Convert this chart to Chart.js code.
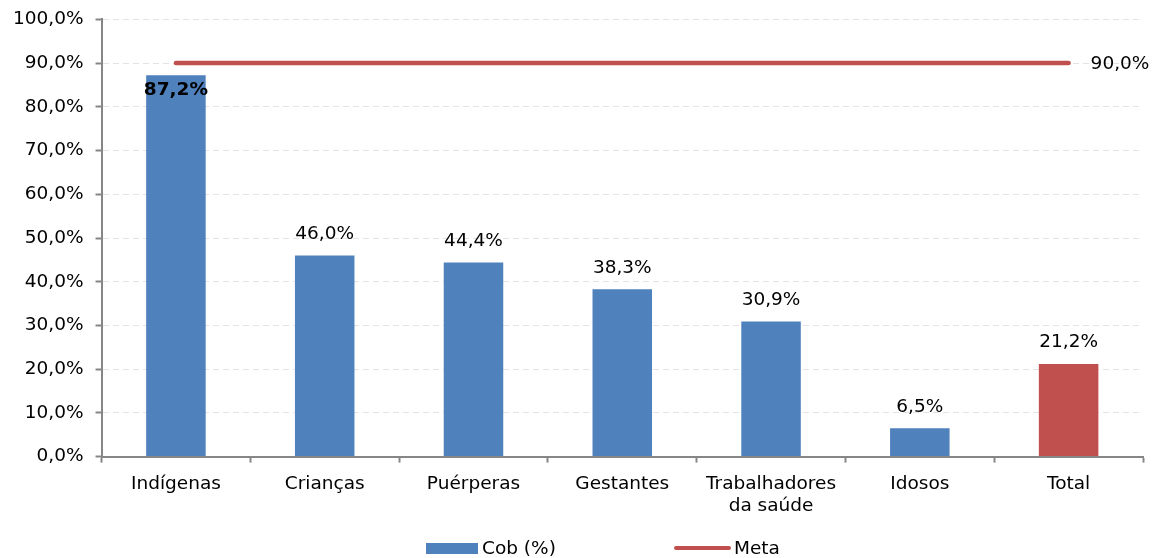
<!DOCTYPE html>
<html>
<head>
<meta charset="utf-8">
<script src="https://cdn.jsdelivr.net/npm/chart.js@4"></script>
<style>
  html, body { margin: 0; padding: 0; background: #fff; }
  #wrap { width: 1160px; height: 558px; }
</style>
</head>
<body>
<div id="wrap"><canvas id="chart"></canvas></div>
<script>
const categories = ['Indígenas', 'Crianças', 'Puérperas', 'Gestantes', ['Trabalhadores', 'da saúde'], 'Idosos', 'Total'];
const cobValues = [87.2, 46.0, 44.4, 38.3, 30.9, 6.5, 21.2];
const metaValues = [90, 90, 90, 90, 90, 90, 90];
const yTicks = [0, 10, 20, 30, 40, 50, 60, 70, 80, 90, 100];

const BLUE = '#4F81BD';
const RED = '#C0504D';
const FONT = '"DejaVu Sans", Verdana, sans-serif';
const FS = 18.5;

function pct(v) {
    return v.toFixed(1).replace('.', ',') + '%';
}

// value labels + legend, drawn by hand
const labelsPlugin = {
    id: 'labels',
    afterDatasetsDraw(chart) {
        const ctx = chart.ctx;
        const bars = chart.getDatasetMeta(0).data;
        ctx.save();
        ctx.fillStyle = '#000';
        ctx.textAlign = 'center';
        bars.forEach((bar, i) => {
            if (i === 0) {
                ctx.font = 'bold ' + FS + 'px ' + FONT;
                ctx.textBaseline = 'top';
                ctx.fillText(pct(cobValues[i]), bar.x, bar.y + 6);
            } else {
                ctx.font = FS + 'px ' + FONT;
                ctx.textBaseline = 'bottom';
                ctx.fillText(pct(cobValues[i]), bar.x, bar.y - 12);
            }
        });
        // meta label
        const line = chart.getDatasetMeta(1).data;
        const last = line[line.length - 1];
        ctx.font = FS + 'px ' + FONT;
        ctx.textAlign = 'left';
        ctx.textBaseline = 'middle';
        ctx.fillText(pct(metaValues[metaValues.length - 1]), last.x + 22, last.y + 1);

        // legend
        const ly = 548;
        ctx.fillStyle = BLUE;
        ctx.fillRect(426, ly - 5, 52, 11);
        ctx.fillStyle = '#000';
        ctx.fillText('Cob (%)', 482, ly + 1);
        ctx.strokeStyle = RED;
        ctx.lineWidth = 4;
        ctx.lineCap = 'round';
        ctx.beginPath();
        ctx.moveTo(676, ly);
        ctx.lineTo(729, ly);
        ctx.stroke();
        ctx.fillText('Meta', 734, ly + 1);
        ctx.restore();
    }
};

new Chart(document.getElementById('chart'), {
    type: 'bar',
    data: {
        labels: categories,
        datasets: [{
            label: 'Cob (%)',
            data: cobValues,
            backgroundColor: [BLUE, BLUE, BLUE, BLUE, BLUE, BLUE, RED],
            barPercentage: 0.8,
            categoryPercentage: 0.5,
            order: 2
        }, {
            type: 'line',
            label: 'Meta',
            data: metaValues,
            borderColor: RED,
            borderWidth: 4.5,
            borderCapStyle: 'round',
            pointRadius: 0,
            order: 1
        }]
    },
    options: {
        responsive: true,
        maintainAspectRatio: false,
        animation: false,
        layout: { padding: { top: 0, right: 17, bottom: 31, left: 1 } },
        plugins: {
            legend: { display: false },
            tooltip: { enabled: false }
        },
        scales: {
            x: {
                grid: {
                    offset: true,
                    drawOnChartArea: false,
                    tickLength: 6,
                    tickColor: '#868686',
                    tickWidth: 2
                },
                border: { color: '#868686', width: 2 },
                ticks: {
                    color: '#000',
                    font: { family: FONT, size: FS },
                    padding: 10,
                    maxRotation: 0
                }
            },
            y: {
                min: 0,
                max: 100,
                afterBuildTicks(axis) {
                    axis.ticks = yTicks.map(v => ({ value: v }));
                },
                grid: {
                    color: '#E3E3E3',
                    tickLength: 6,
                    tickColor: '#868686',
                    tickWidth: 2
                },
                border: { color: '#868686', width: 2, dash: [6, 4] },
                ticks: {
                    color: '#000',
                    font: { family: FONT, size: FS, lineHeight: 0.8 },
                    padding: 12,
                    callback: v => pct(v)
                }
            }
        }
    },
    plugins: [labelsPlugin]
});
</script>
</body>
</html>
